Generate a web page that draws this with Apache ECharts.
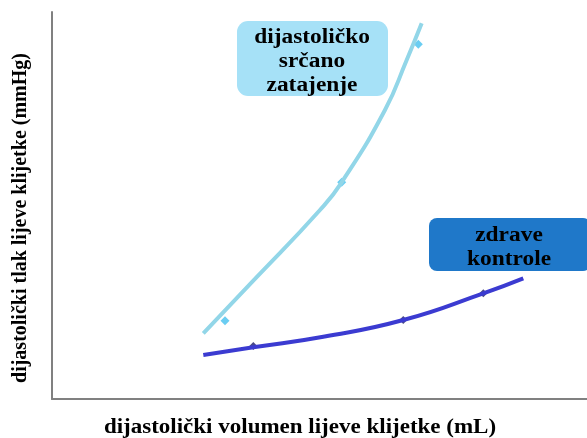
<!DOCTYPE html>
<html>
<head>
<meta charset="utf-8">
<script src="https://cdn.jsdelivr.net/npm/echarts@6/dist/echarts.min.js"></script>
<style>
  html, body { margin: 0; padding: 0; background: #fff; }
  #chart { width: 587px; height: 438px; }
</style>
</head>
<body>
<div id="chart"></div>
<script>
// fitted curves and measured points (relative units, axes carry no ticks)
const failureCurve = [[28.28, 16.98], [37.94, 31.01], [50.09, 48.84], [54.15, 55.99], [62.24, 74.68], [66.30, 87.60], [69.10, 97.08]]
const failurePoints = [[32.34, 20.23], [54.15, 55.99], [68.47, 91.65]]
const controlCurve = [[28.28, 11.37], [37.63, 13.36], [50.71, 16.10], [65.66, 20.41], [80.62, 27.31], [88.09, 31.19]]
const controlPoints = [[37.63, 13.70], [65.66, 20.41], [80.62, 27.31]]

const xTitle = 'dijastolički volumen lijeve klijetke (mL)'
const yTitle = 'dijastolički tlak lijeve klijetke (mmHg)'
const failureLabel = 'dijastoličko\nsrčano\nzatajenje'
const controlLabel = 'zdrave\nkontrole'

const serif = '"Liberation Serif", "DejaVu Serif", serif'

const chart = echarts.init(document.getElementById('chart'))

// bold serif text, slightly stretched like the original slide
function label (text, x, y, opts) {
  return Object.assign({
    type: 'text',
    x: x,
    y: y,
    style: {
      text: text,
      align: 'center',
      verticalAlign: 'middle',
      fontFamily: serif,
      fontWeight: 'bold',
      fontSize: 20,
      lineHeight: 24,
      fill: '#000'
    }
  }, opts || {})
}

chart.setOption({
  animation: false,
  grid: { left: 52, right: 0, top: 12, bottom: 39, outerBoundsMode: 'none' },
  xAxis: {
    type: 'value',
    min: 0,
    max: 100,
    axisLine: { show: true, lineStyle: { color: '#808080', width: 2 } },
    axisTick: { show: false },
    axisLabel: { show: false },
    splitLine: { show: false }
  },
  yAxis: {
    type: 'value',
    min: 0,
    max: 100,
    axisLine: { show: true, lineStyle: { color: '#808080', width: 2 } },
    axisTick: { show: false },
    axisLabel: { show: false },
    splitLine: { show: false }
  },
  series: [
    {
      type: 'line',
      data: failureCurve,
      smooth: 0.5,
      symbol: 'none',
      lineStyle: { color: '#92d6e8', width: 4 }
    },
    {
      type: 'scatter',
      data: failurePoints,
      symbol: 'diamond',
      symbolSize: 9,
      itemStyle: { color: '#45c1ef' }
    },
    {
      type: 'line',
      data: controlCurve,
      smooth: 0.5,
      symbol: 'none',
      lineStyle: { color: '#3b3bd1', width: 4 }
    },
    {
      type: 'scatter',
      data: controlPoints,
      symbol: 'diamond',
      symbolSize: 8,
      itemStyle: { color: '#1c1c6b' }
    }
  ],
  graphic: [
    label(xTitle, 300, 428, { scaleX: 1.15 }),
    label(yTitle, 21, 218, { rotation: Math.PI / 2 }),
    {
      type: 'group',
      x: 237,
      y: 21,
      children: [
        { type: 'rect', shape: { x: 0, y: 0, width: 151, height: 75, r: 11 }, style: { fill: '#a6e1f7' } },
        label(failureLabel, 75, 41, { scaleX: 1.17 })
      ]
    },
    {
      type: 'group',
      x: 429,
      y: 218,
      children: [
        { type: 'rect', shape: { x: 0, y: 0, width: 162, height: 53, r: 8 }, style: { fill: '#1f78c9' } },
        label(controlLabel, 80, 30, { scaleX: 1.17 })
      ]
    }
  ]
})
</script>
</body>
</html>
